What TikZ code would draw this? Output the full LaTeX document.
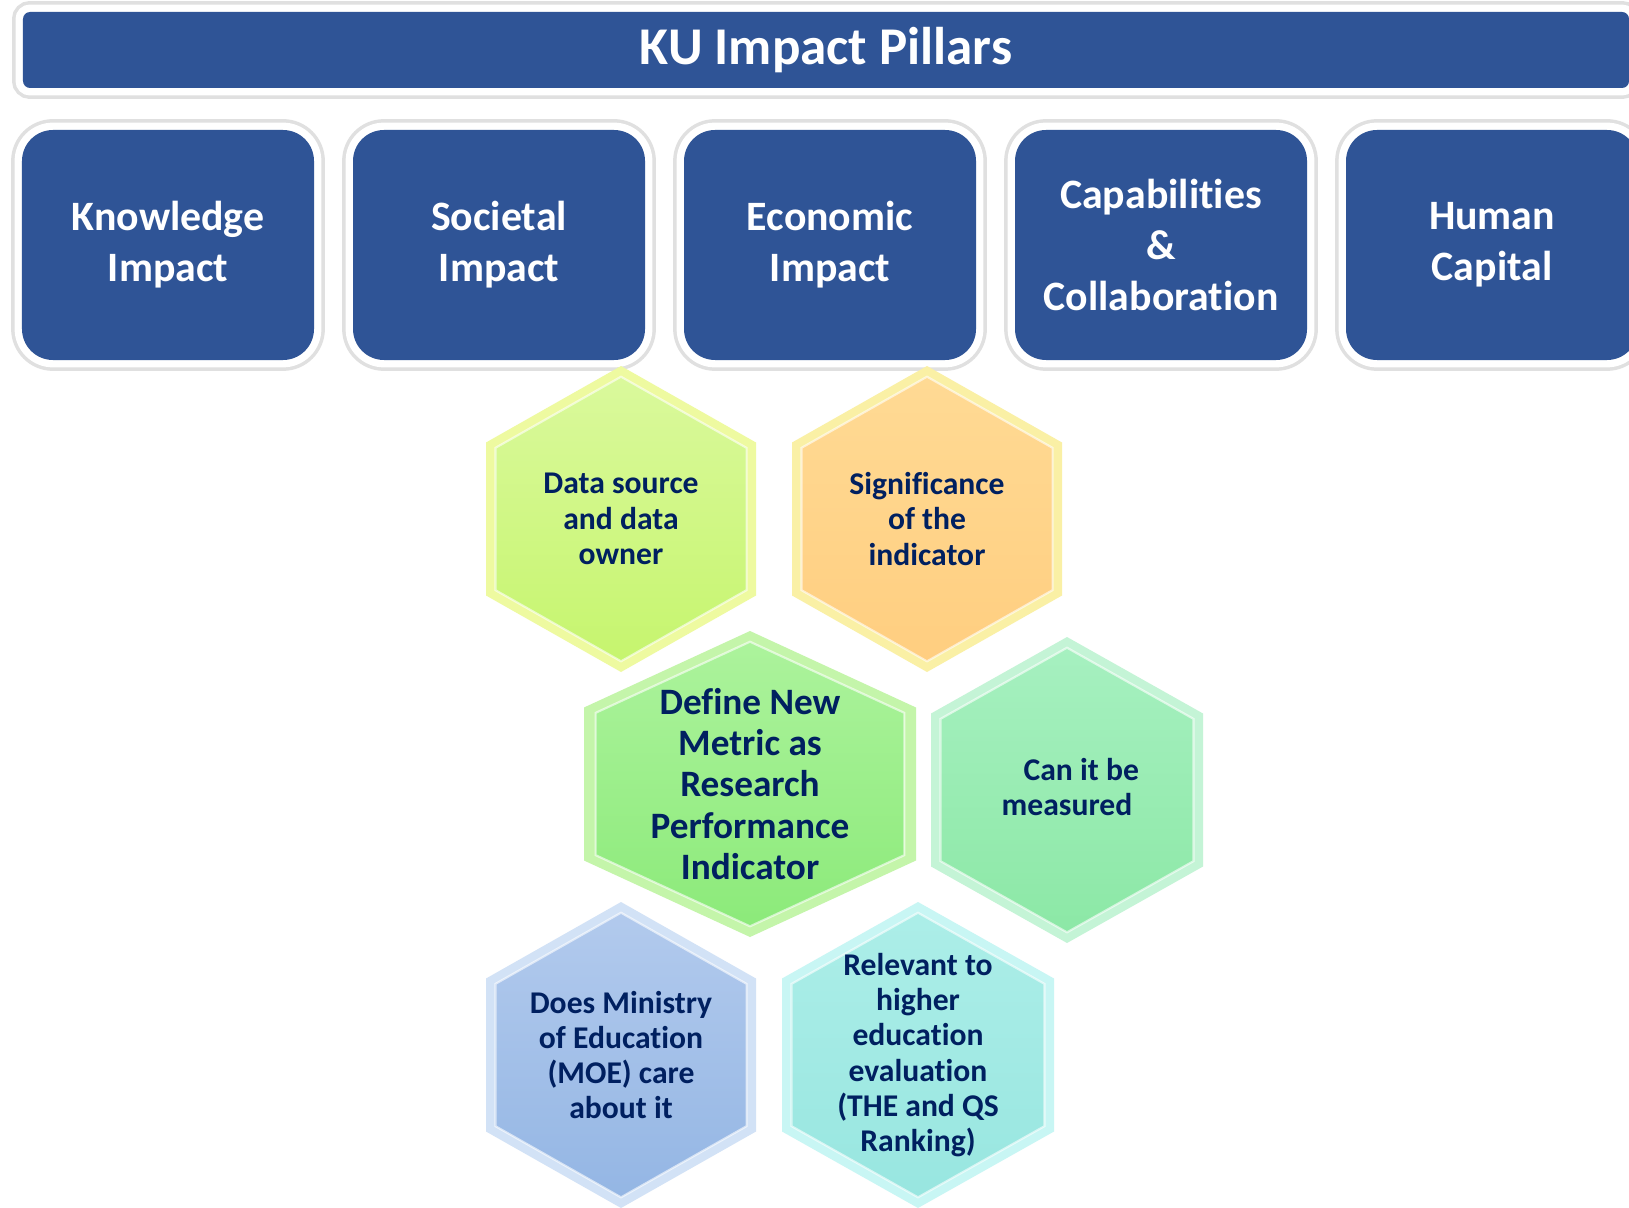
\documentclass[tikz,border=0pt]{standalone}
\usepackage{fontspec}
\setmainfont{Carlito}[Ligatures=NoCommon]
\usepackage{tikz}

\begin{document}
\begin{tikzpicture}

	\definecolor{kublue}{RGB}{47,84,150}
	\definecolor{navy}{RGB}{0,32,96}
	\definecolor{limerim}{RGB}{238,250,160}
	\definecolor{limetop}{RGB}{218,249,156}
	\definecolor{limebot}{RGB}{198,245,110}
	\definecolor{peachrim}{RGB}{250,240,165}
	\definecolor{peachtop}{RGB}{255,218,148}
	\definecolor{peachbot}{RGB}{255,206,128}
	\definecolor{greenrim}{RGB}{196,245,170}
	\definecolor{greentop}{RGB}{172,243,156}
	\definecolor{greenbot}{RGB}{140,234,122}
	\definecolor{mintrim}{RGB}{196,244,214}
	\definecolor{minttop}{RGB}{166,240,192}
	\definecolor{mintbot}{RGB}{140,232,166}
	\definecolor{bluerim}{RGB}{210,226,246}
	\definecolor{bluetop}{RGB}{178,202,237}
	\definecolor{bluebot}{RGB}{148,182,228}
	\definecolor{aquarim}{RGB}{200,246,244}
	\definecolor{aquatop}{RGB}{172,238,232}
	\definecolor{aquabot}{RGB}{152,230,224}

	\path[use as bounding box, clip] (0,0) rectangle (16.29,-12.07);
	\fill[white] (0,0) rectangle (16.29,-12.07);

	\tikzset{bar/.style = {rectangle, fill=kublue, text=white, align=center,
		preaction={draw=black!12, line width=6.2pt},
		preaction={draw=white, line width=4.2pt}}}
	\node[bar, rounded corners=2pt, minimum width=16.06cm, minimum height=0.76cm,
		font=\fontsize{15.1}{18}\selectfont\bfseries] (title) at (8.26,-0.50) {KU Impact Pillars};

	\tikzset{pillar/.style = {bar, rounded corners=0.31cm, minimum width=2.92cm, minimum height=2.30cm,
		font=\fontsize{11.9}{14.5}\selectfont\bfseries}}
	\node[pillar] (knowledge) at (1.68,-2.45) {Knowledge\\Impact};
	\node[pillar] (societal) at (4.99,-2.45) {Societal\\Impact};
	\node[pillar] (economic) at (8.30,-2.45) {Economic\\Impact};
	\node[pillar] (capabilities) at (11.61,-2.45) {Capabilities\\\&\\Collaboration};
	\node[pillar] (human) at (14.92,-2.45) {Human\\Capital};

	% hexagon cells
	\foreach \cx/\cy/\hw/\rim/\top/\bot in {
		6.21/-5.19/1.35/limerim/limetop/limebot,
		9.27/-5.19/1.35/peachrim/peachtop/peachbot,
		7.50/-7.84/1.66/greenrim/greentop/greenbot,
		10.67/-7.90/1.36/mintrim/minttop/mintbot,
		6.21/-10.55/1.35/bluerim/bluetop/bluebot,
		9.18/-10.55/1.36/aquarim/aquatop/aquabot}
	{
		\fill[\rim, shift={(\cx,\cy)}] (0,1.53) -- (\hw,0.765) -- (\hw,-0.765) -- (0,-1.53)
			-- (-\hw,-0.765) -- (-\hw,0.765) -- cycle;
		\shade[top color=\top, bottom color=\bot, draw=white, draw opacity=0.6, line width=0.6pt,
			shift={(\cx,\cy)}, scale=0.93] (0,1.53) -- (\hw,0.765) -- (\hw,-0.765) -- (0,-1.53)
			-- (-\hw,-0.765) -- (-\hw,0.765) -- cycle;
	}

	\tikzset{cell/.style = {text=navy, align=center, font=\fontsize{9}{10}\selectfont\bfseries}}
	\node[cell] (source) at (6.21,-5.19) {Data source\\and data\\owner};
	\node[cell] (significance) at (9.27,-5.19) {Significance\\of the\\indicator};
	\node[cell, font=\fontsize{10.6}{11.75}\selectfont\bfseries] (metric) at (7.50,-7.84)
		{Define New\\Metric as\\Research\\Performance\\Indicator};
	\node[cell] (measured) at (10.67,-7.87) {\hspace{0.9em}Can it be\\measured};
	\node[cell] (ministry) at (6.21,-10.55) {Does Ministry\\of Education\\(MOE) care\\about it};
	\node[cell] (ranking) at (9.18,-10.55) {Relevant to\\higher\\education\\evaluation\\(THE and QS\\Ranking)};

\end{tikzpicture}
\end{document}
